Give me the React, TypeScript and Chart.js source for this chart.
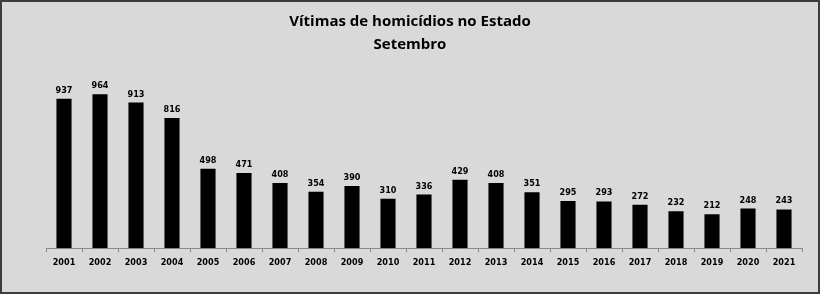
import React, { useEffect, useRef } from "react";
import { Chart, registerables } from "chart.js";

Chart.register(...registerables);

const titleLines = ["Vítimas de homicídios no Estado", "Setembro"];
const categories = [
  "2001", "2002", "2003", "2004", "2005", "2006", "2007", "2008", "2009", "2010", "2011",
  "2012", "2013", "2014", "2015", "2016", "2017", "2018", "2019", "2020", "2021",
];
const values = [937, 964, 913, 816, 498, 471, 408, 354, 390, 310, 336, 429, 408, 351, 295, 293, 272, 232, 212, 248, 243];

const W = 820;
const H = 294;
const LABEL_FONT = "bold 9px 'DejaVu Sans Condensed', 'DejaVu Sans', sans-serif";

const framePlugin = {
  id: "frame",
  beforeDraw(chart: any) {
    const ctx = chart.ctx;
    ctx.save();
    ctx.fillStyle = "#d9d9d9";
    ctx.fillRect(0, 0, W, H);
    ctx.strokeStyle = "#3c3c3c";
    ctx.lineWidth = 2;
    ctx.strokeRect(1, 1, W - 2, H - 2);
    ctx.fillStyle = "#000";
    ctx.textAlign = "center";
    ctx.textBaseline = "alphabetic";
    ctx.font = "bold 15px 'Open Sans', sans-serif";
    ctx.fillText(titleLines[0], W / 2, 26);
    ctx.fillText(titleLines[1], W / 2, 49);
    ctx.restore();
  },
  afterDatasetsDraw(chart: any) {
    const ctx = chart.ctx;
    const meta = chart.getDatasetMeta(0);
    ctx.save();
    ctx.fillStyle = "#000";
    ctx.font = LABEL_FONT;
    ctx.textAlign = "center";
    ctx.textBaseline = "alphabetic";
    meta.data.forEach((bar: any, i: number) => {
      ctx.fillText(String(values[i]), bar.x, bar.y - 6);
    });
    ctx.restore();
  },
};

export default function App() {
  const ref = useRef<HTMLCanvasElement>(null);
  useEffect(() => {
    document.body.style.margin = "0";
    const chart = new Chart(ref.current!, {
      type: "bar",
      data: {
        labels: categories,
        datasets: [
          {
            data: values,
            backgroundColor: "#000000",
            borderWidth: 0,
            barPercentage: 0.42,
            categoryPercentage: 1,
          },
        ],
      },
      options: {
        responsive: false,
        animation: false,
        layout: { padding: { left: 46, right: 18, top: 56.7, bottom: 21 } },
        plugins: {
          legend: { display: false },
          title: { display: false },
          tooltip: { enabled: false },
        },
        scales: {
          y: { display: false, min: 0, max: 1200 },
          x: {
            grid: {
              display: true,
              drawOnChartArea: false,
              drawTicks: true,
              tickLength: 4,
              color: "#8a8a8a",
              offset: true,
            },
            border: { display: true, color: "#8a8a8a" },
            ticks: {
              color: "#000",
              padding: 5,
              maxRotation: 0,
              autoSkip: false,
              font: { family: "'DejaVu Sans Condensed', 'DejaVu Sans', sans-serif", size: 9, weight: "bold" },
            },
          },
        },
      },
      plugins: [framePlugin],
    });
    return () => chart.destroy();
  }, []);
  return <canvas ref={ref} width={W} height={H} style={{ display: "block" }} />;
}
